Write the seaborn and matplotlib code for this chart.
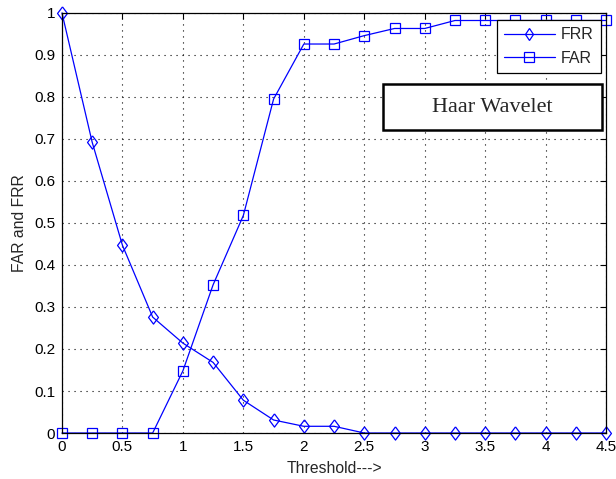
import matplotlib
matplotlib.use("Agg")
import matplotlib.pyplot as plt
from matplotlib.patches import Rectangle
import seaborn as sns
import pandas as pd

threshold = [0, 0.25, 0.5, 0.75, 1.0, 1.25, 1.5, 1.75, 2.0, 2.25, 2.5, 2.75, 3.0,
             3.25, 3.5, 3.75, 4.0, 4.25, 4.5]
frr = [1.0, 0.692, 0.447, 0.276, 0.214, 0.168, 0.078, 0.031, 0.016, 0.016, 0.0, 0.0, 0.0,
       0.0, 0.0, 0.0, 0.0, 0.0, 0.0]
far = [0.0, 0.0, 0.0, 0.0, 0.148, 0.353, 0.518, 0.795, 0.926, 0.926, 0.946, 0.963, 0.963,
       0.982, 0.982, 0.982, 0.982, 0.982, 0.982]
xticks = [0, 0.5, 1, 1.5, 2, 2.5, 3, 3.5, 4, 4.5]
xtick_labels = ["0", "0.5", "1", "1.5", "2", "2.5", "3", "3.5", "4", "4.5"]
yticks = [0, 0.1, 0.2, 0.3, 0.4, 0.5, 0.6, 0.7, 0.8, 0.9, 1]
ytick_labels = ["0", "0.1", "0.2", "0.3", "0.4", "0.5", "0.6", "0.7", "0.8", "0.9", "1"]

sns.set_style("white")
plt.rcParams['font.family'] = ['Liberation Sans', 'DejaVu Sans']

df = pd.DataFrame({"Threshold": threshold, "FRR": frr, "FAR": far})

fig = plt.figure(figsize=(6.16, 4.79), dpi=100)
ax = fig.add_axes([0.1006, 0.096, 0.8834, 0.877])

blue = (0, 0, 1)
diamond = [(0, 1), (0.75, 0), (0, -1), (-0.75, 0), (0, 1)]
sns.lineplot(data=df, x="Threshold", y="FRR", ax=ax, color=blue, marker=diamond,
             markersize=9.5, markerfacecolor="none", markeredgecolor=blue,
             markeredgewidth=0.9, linewidth=0.9, label="FRR")
sns.lineplot(data=df, x="Threshold", y="FAR", ax=ax, color=blue, marker="s",
             markersize=7, markerfacecolor="none", markeredgecolor=blue,
             markeredgewidth=0.9, linewidth=0.9, label="FAR")
for ln in ax.lines:
    ln.set_clip_on(False)

ax.set_xlim(0, 4.5)
ax.set_ylim(0, 1)
ax.set_xticks(xticks)
ax.set_xticklabels(xtick_labels)
ax.set_yticks(yticks)
ax.set_yticklabels(ytick_labels)
ax.tick_params(direction="in", top=True, right=True, length=4, width=0.8,
               labelsize=11, colors="black", pad=5)
ax.grid(True, linestyle=(0, (1, 4.4)), color="black", linewidth=0.8)
for s in ax.spines.values():
    s.set_color("black")
    s.set_linewidth(0.9)
    s.set_visible(True)

ax.set_xlabel("Threshold--->", fontsize=11.3, labelpad=5)
ax.set_ylabel("FAR and FRR", fontsize=11.3, labelpad=5)

leg = ax.legend(loc="upper right", bbox_to_anchor=(0.9908, 0.9833), fontsize=11.5,
                frameon=True, fancybox=False, edgecolor="black", framealpha=1,
                borderaxespad=0, handlelength=3.2, handletextpad=0.4, borderpad=0.45,
                labelspacing=0.55)
leg.get_frame().set_linewidth(0.9)
for h in leg.legend_handles:
    if h.get_label() == "FRR":
        h.set_marker("d")
        h.set_markersize(6)

ax.add_patch(Rectangle((0.590, 0.7214), 0.403, 0.1096, transform=ax.transAxes,
                       facecolor="white", edgecolor="black", linewidth=1.8, zorder=6,
                       clip_on=False))
ax.text(0.7914, 0.776, "Haar Wavelet", transform=ax.transAxes, ha="center", va="center",
        fontsize=16, family=["Liberation Serif", "DejaVu Serif"], zorder=7)

fig.savefig("out.png", dpi=100)
